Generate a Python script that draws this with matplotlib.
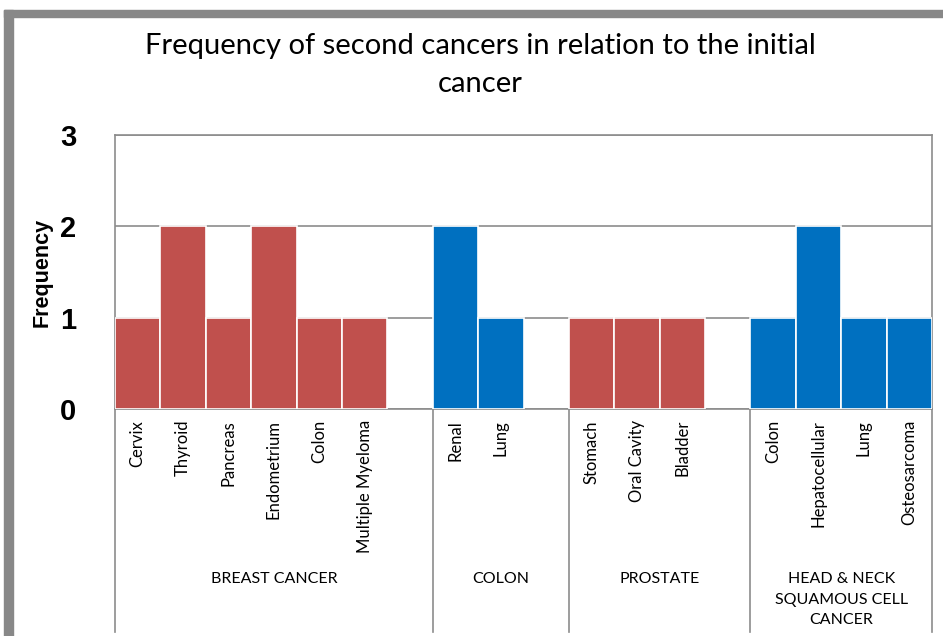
import matplotlib
matplotlib.use("Agg")
import matplotlib.pyplot as plt
import matplotlib.transforms as mtransforms
from matplotlib.patches import Rectangle

# Data
groups = ["BREAST CANCER", "COLON", "PROSTATE", "HEAD & NECK\nSQUAMOUS CELL\nCANCER"]
group_sites = [
    ["Cervix", "Thyroid", "Pancreas", "Endometrium", "Colon", "Multiple Myeloma"],
    ["Renal", "Lung"],
    ["Stomach", "Oral Cavity", "Bladder"],
    ["Colon", "Hepatocellular", "Lung", "Osteosarcoma"],
]
group_counts = [
    [1, 2, 1, 2, 1, 1],
    [2, 1],
    [1, 1, 1],
    [1, 2, 1, 1],
]
group_colors = ["#C0504D", "#0070C0", "#C0504D", "#0070C0"]

LABEL_FONT = "Lato"
GRID_COLOR = "#8C8C8C"

fig = plt.figure(figsize=(9.43, 6.36), dpi=100)
W, H = 943, 636
ax = fig.add_axes([115 / W, 1 - 409 / H, (932 - 115) / W, (409 - 135) / H])

# Lay out slots: one per bar, plus an empty slot after every group but the last
xs, heights, colors, names = [], [], [], []
bounds = [0]
pos = 0
for gi, (sites, counts) in enumerate(zip(group_sites, group_counts)):
    for s, c in zip(sites, counts):
        xs.append(pos + 0.5)
        heights.append(c)
        colors.append(group_colors[gi])
        names.append(s)
        pos += 1
    if gi < len(groups) - 1:
        pos += 1
    bounds.append(pos)

ax.bar(xs, heights, width=1.0, color=colors, edgecolor="white", linewidth=1.2, zorder=3)

ax.set_xlim(0, pos)
ax.set_ylim(0, 3)
ax.set_yticks([0, 1, 2, 3])
ax.set_yticklabels(["0", "1", "2", "3"], fontsize=21, fontweight="bold", family="Liberation Sans")
ax.tick_params(axis="y", length=0, pad=28)
ax.set_xticks([])
ax.yaxis.grid(True, color=GRID_COLOR, linewidth=1.2, zorder=0)
ax.set_axisbelow(True)
for sp in ax.spines.values():
    sp.set_color(GRID_COLOR)
    sp.set_linewidth(1.2)

ax.set_ylabel("Frequency", fontsize=15.5, fontweight="bold", family="Liberation Sans")
ax.yaxis.set_label_coords(-62 / (932 - 115), 0.5)

# Category labels under each bar
trans = mtransforms.blended_transform_factory(ax.transData, ax.transAxes)
ax_h = 409 - 135
for x, n in zip(xs, names):
    ax.text(x, -11 / ax_h, n, rotation=90, ha="center", va="top", fontsize=12,
            family=LABEL_FONT, transform=trans)

# Group separators and group labels
bottom = -(632 - 409) / ax_h
for b in bounds:
    ax.plot([b, b], [0, bottom], color=GRID_COLOR, linewidth=1.2, transform=trans,
            clip_on=False)
for gi, g in enumerate(groups):
    cx = (bounds[gi] + bounds[gi + 1]) / 2
    ax.text(cx, -(572 - 409) / ax_h, g, ha="center", va="top", fontsize=11.5,
            family=LABEL_FONT, linespacing=1.6, transform=trans)

# Title
fig.text(480 / W, 1 - 33 / H, "Frequency of second cancers in relation to the initial\ncancer",
         ha="center", va="top", fontsize=21, family=LABEL_FONT, linespacing=1.55)

# Grey frame on left and top edge
fig.patches.append(Rectangle((4 / W, 0), 9 / W, 1 - 10 / H, transform=fig.transFigure,
                             color="#888888", zorder=0))
fig.patches.append(Rectangle((4 / W, 1 - 17 / H), 1, 7 / H, transform=fig.transFigure,
                             color="#888888", zorder=0))

fig.savefig("out.png", dpi=100)
